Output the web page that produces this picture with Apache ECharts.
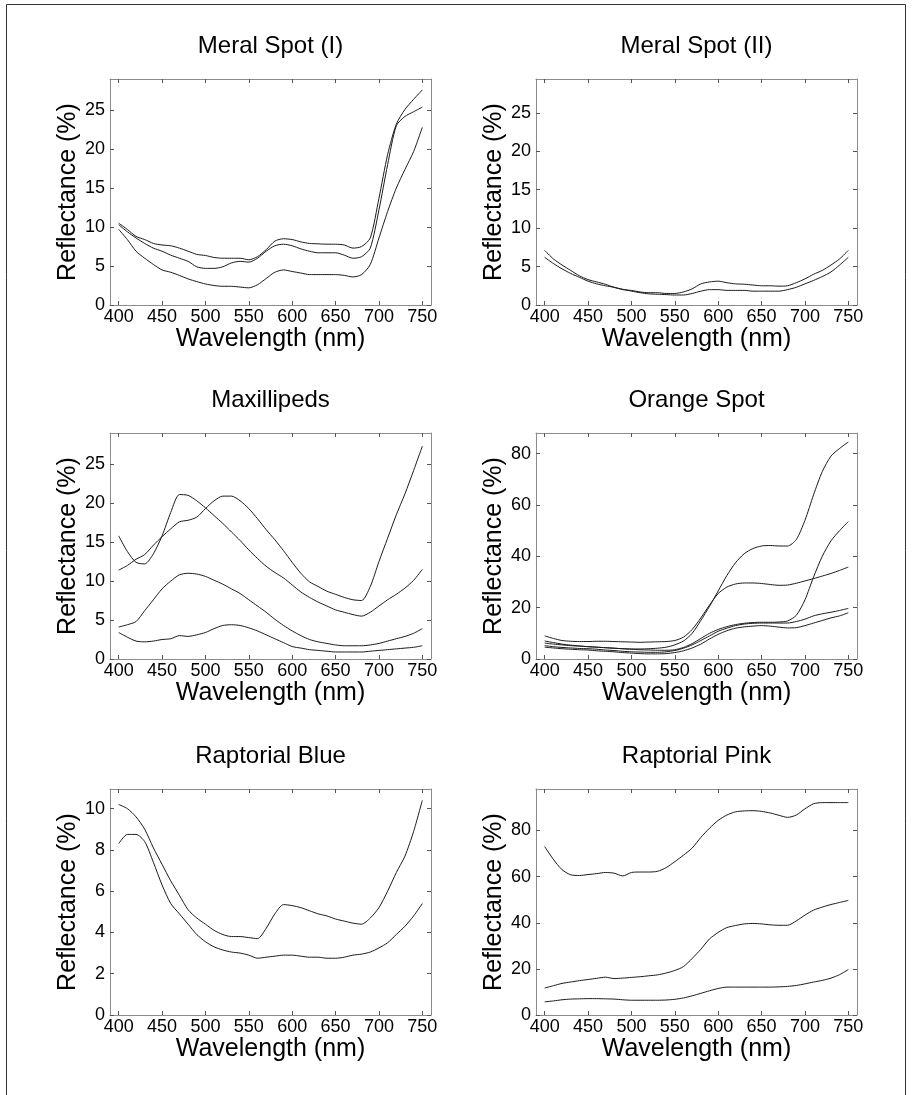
<!DOCTYPE html>
<html>
<head>
<meta charset="utf-8">
<title>Reflectance spectra</title>
<script src="https://cdn.jsdelivr.net/npm/echarts@6/dist/echarts.min.js"></script>
<style>
  html, body { margin: 0; padding: 0; background: #fff; }
  #chart { width: 912px; height: 1095px; }
</style>
</head>
<body>
<div id="chart"></div>
<script>
// Wavelength samples (nm)
const wavelength = [400,410,420,430,440,450,460,470,480,490,500,510,520,530,540,550,560,570,
                    580,590,600,610,620,630,640,650,660,670,680,690,700,710,720,730,740,750];

// Meral Spot (I)
const meral1A = [10.5,9.7,8.8,8.4,7.9,7.7,7.6,7.3,6.9,6.5,6.35,6.1,6.0,6.0,6.0,5.8,6.2,7.1,
                 8.2,8.5,8.4,8.1,7.9,7.85,7.8,7.8,7.7,7.3,7.5,8.6,13.7,19.3,23.2,25.1,26.4,27.6];
const meral1B = [10.3,9.4,8.6,7.9,7.3,6.9,6.4,6.0,5.6,4.9,4.7,4.7,4.9,5.4,5.6,5.5,6.0,6.9,
                 7.6,7.8,7.6,7.2,6.9,6.7,6.7,6.7,6.4,6.0,6.2,7.3,12.2,18.0,23.0,24.2,24.8,25.4];
const meral1C = [9.7,8.4,6.9,6.0,5.2,4.5,4.2,3.8,3.35,3.0,2.7,2.5,2.4,2.4,2.3,2.2,2.6,3.4,
                 4.2,4.5,4.3,4.1,3.9,3.9,3.9,3.9,3.8,3.6,3.9,5.2,8.6,12.0,15.0,17.4,19.7,22.8];

// Meral Spot (II)
const meral2A = [7.1,6.0,5.2,4.5,3.8,3.3,3.0,2.7,2.3,2.0,1.9,1.7,1.6,1.6,1.5,1.5,1.7,2.1,
                 2.75,3.0,3.1,2.9,2.75,2.7,2.6,2.5,2.5,2.45,2.5,2.9,3.4,4.0,4.5,5.2,6.0,7.1];
const meral2B = [6.2,5.4,4.7,4.1,3.6,3.1,2.75,2.5,2.3,2.05,1.8,1.6,1.45,1.4,1.35,1.3,1.3,1.5,
                 1.8,2.0,2.0,1.9,1.9,1.9,1.8,1.8,1.8,1.8,2.0,2.3,2.75,3.2,3.7,4.3,5.2,6.2];

// Maxillipeds
const maxilA = [15.8,13.8,12.4,12.2,13.5,15.8,18.8,21.1,21.0,20.3,19.4,18.4,17.4,16.3,15.2,14.0,12.9,11.9,
                11.1,10.4,9.5,8.6,7.9,7.3,6.8,6.3,6.0,5.7,5.5,6.0,6.8,7.6,8.3,9.1,10.1,11.5];
const maxilB = [11.4,12.0,12.8,13.4,14.6,15.7,16.7,17.6,17.8,18.2,19.3,20.3,20.9,20.9,20.3,19.3,18.0,16.6,
                15.3,13.9,12.4,11.0,9.9,9.3,8.7,8.3,7.9,7.6,7.5,9.3,12.5,15.5,18.5,21.2,24.2,27.3];
const maxilC = [4.1,4.4,4.8,6.2,7.6,9.0,10.0,10.8,11.0,10.9,10.6,10.1,9.6,9.0,8.4,7.6,6.8,6.0,
                5.1,4.3,3.6,3.0,2.5,2.2,2.0,1.8,1.7,1.7,1.7,1.8,2.0,2.3,2.6,2.9,3.3,3.9];
const maxilD = [3.4,2.8,2.3,2.2,2.3,2.5,2.6,3.0,2.9,3.1,3.4,3.9,4.3,4.4,4.3,4.0,3.6,3.1,
                2.6,2.1,1.6,1.4,1.2,1.1,1.0,0.9,0.9,0.9,0.9,1.0,1.1,1.2,1.3,1.4,1.5,1.7];

// Orange Spot
const orangeA = [6.2,5.8,5.5,5.2,5.0,4.8,4.6,4.4,4.2,4.0,3.9,3.9,4.0,4.2,4.6,5.5,7.0,10.0,
                 15.0,20.5,26.5,32.5,37.5,41.0,43.0,44.0,44.2,44.0,44.0,46.5,54.0,64.0,73.0,79.0,82.0,84.5];
const orangeB = [9.0,8.0,7.2,6.9,6.8,6.8,6.9,6.9,6.8,6.7,6.6,6.5,6.6,6.7,6.8,7.2,8.5,11.5,
                 16.0,21.0,25.5,28.0,29.2,29.6,29.6,29.4,29.0,28.7,28.8,29.5,30.4,31.3,32.3,33.3,34.5,35.8];
const orangeC = [7.0,6.4,5.8,5.4,5.1,4.8,4.6,4.4,4.2,4.0,3.8,3.6,3.5,3.4,3.4,3.6,4.5,6.0,
                 8.0,10.0,11.5,12.6,13.4,13.9,14.2,14.3,14.3,14.4,14.8,17.0,23.0,32.0,40.0,46.0,50.0,53.5];
const orangeD = [5.2,4.8,4.5,4.3,4.1,4.0,3.8,3.5,3.3,3.0,2.8,2.7,2.6,2.6,2.8,3.3,4.2,5.5,
                 7.2,9.0,10.8,12.0,13.0,13.6,13.9,14.0,14.0,14.0,14.0,14.6,15.5,16.8,17.6,18.2,18.9,19.7];
const orangeE = [4.6,4.3,4.0,3.8,3.6,3.5,3.2,3.0,2.8,2.5,2.3,2.1,2.0,2.0,2.1,2.5,3.2,4.3,
                 5.8,7.8,9.6,11.0,12.0,12.5,12.8,13.0,12.8,12.4,12.1,12.2,13.0,14.0,15.0,16.0,16.8,18.0];

// Raptorial Blue
const blueA = [10.2,10.0,9.6,9.0,8.1,7.3,6.5,5.8,5.1,4.7,4.4,4.1,3.9,3.8,3.8,3.75,3.7,4.2,
               4.9,5.35,5.3,5.2,5.05,4.9,4.8,4.65,4.55,4.45,4.4,4.7,5.2,6.0,6.9,7.7,8.9,10.4];
const blueB = [8.3,8.75,8.75,8.4,7.4,6.3,5.4,4.9,4.4,3.9,3.55,3.3,3.15,3.05,3.0,2.9,2.75,2.8,
               2.85,2.9,2.9,2.85,2.8,2.8,2.75,2.75,2.8,2.9,2.95,3.05,3.25,3.5,3.9,4.3,4.8,5.4];

// Raptorial Pink
const pinkA = [73.0,67.5,63.0,60.8,60.5,60.9,61.3,61.8,61.5,60.3,61.8,62.0,62.0,62.3,63.9,66.5,69.3,72.4,
               77.0,81.0,84.4,86.7,88.1,88.5,88.6,88.3,87.6,86.6,85.7,86.7,89.4,91.6,92.1,92.1,92.1,92.1];
const pinkB = [11.7,12.7,13.7,14.3,14.9,15.4,15.9,16.4,15.8,16.0,16.3,16.6,17.0,17.4,18.2,19.3,21.0,24.5,
               28.5,33.0,35.8,37.9,38.8,39.5,39.7,39.5,39.1,38.9,38.9,40.8,43.3,45.5,46.8,47.9,48.8,49.7];
const pinkC = [5.7,6.1,6.6,6.9,7.0,7.1,7.1,7.0,6.9,6.6,6.4,6.4,6.4,6.4,6.5,6.8,7.4,8.3,
               9.4,10.5,11.5,12.1,12.1,12.1,12.1,12.1,12.1,12.2,12.4,12.8,13.5,14.3,15.0,16.0,17.5,19.7];

// Tick labels
const xTicks = [400,450,500,550,600,650,700,750];
const yTicksLow = [0,5,10,15,20,25];
const yTicksHigh = [0,20,40,60,80];
const yTicksBlue = [0,2,4,6,8,10];

const panelTitles = ['Meral Spot (I)','Meral Spot (II)','Maxillipeds','Orange Spot','Raptorial Blue','Raptorial Pink'];
const xName = 'Wavelength (nm)';
const yName = 'Reflectance (%)';

const panels = [
  { title: panelTitles[0], curves: [meral1A, meral1B, meral1C], yMax: 29, yTicks: yTicksLow },
  { title: panelTitles[1], curves: [meral2A, meral2B], yMax: 29.4, yTicks: yTicksLow },
  { title: panelTitles[2], curves: [maxilA, maxilB, maxilC, maxilD], yMax: 29, yTicks: yTicksLow },
  { title: panelTitles[3], curves: [orangeA, orangeB, orangeC, orangeD, orangeE], yMax: 88, yTicks: yTicksHigh },
  { title: panelTitles[4], curves: [blueA, blueB], yMax: 10.95, yTicks: yTicksBlue },
  { title: panelTitles[5], curves: [pinkA, pinkB, pinkC], yMax: 98, yTicks: yTicksHigh }
];

// Layout of the 3 x 2 panel arrangement (pixels)
const colLeft = [110, 536];
const plotW = 321;
const rowTop = [79, 433, 789];
const plotH = 226;

const FONT = "'Liberation Sans', Arial, Helvetica, sans-serif";
const AXIS_COLOR = '#8c8c8c';
const TICK_COLOR = '#555';
const LINE_COLOR = '#1a1a1a';

const grids = [], xAxes = [], yAxes = [], series = [], titles = [];

panels.forEach((p, i) => {
  const col = i % 2, row = Math.floor(i / 2);
  const left = colLeft[col], top = rowTop[row];
  grids.push({ left: left, top: top, width: plotW, height: plotH, containLabel: false });

  titles.push({
    text: p.title,
    left: left + plotW / 2,
    top: top - 45,
    padding: 0,
    textAlign: 'center',
    textStyle: { fontFamily: FONT, fontSize: 24, fontWeight: 'normal', color: '#000' }
  });

  const boxLine = { show: true, onZero: false, lineStyle: { color: AXIS_COLOR, width: 1 } };

  // bottom axis with labels
  xAxes.push({
    type: 'value', gridIndex: i, position: 'bottom', min: 390, max: 760,
    axisLine: boxLine,
    axisTick: { show: true, inside: true, length: 4, customValues: xTicks, lineStyle: { color: TICK_COLOR } },
    axisLabel: { show: true, customValues: xTicks, margin: 3, fontFamily: FONT, fontSize: 18, color: '#000' },
    splitLine: { show: false },
    name: xName, nameLocation: 'middle', nameGap: 21,
    nameTextStyle: { fontFamily: FONT, fontSize: 25, color: '#000' }
  });
  // top edge of the box
  xAxes.push({
    type: 'value', gridIndex: i, position: 'top', min: 390, max: 760,
    axisLine: boxLine,
    axisTick: { show: true, inside: true, length: 4, customValues: xTicks, lineStyle: { color: TICK_COLOR } },
    axisLabel: { show: false },
    splitLine: { show: false }
  });

  // left axis with labels
  yAxes.push({
    type: 'value', gridIndex: i, position: 'left', min: 0, max: p.yMax,
    axisLine: boxLine,
    axisTick: { show: true, inside: true, length: 4, customValues: p.yTicks, lineStyle: { color: TICK_COLOR } },
    axisLabel: { show: true, customValues: p.yTicks, margin: 5, fontFamily: FONT, fontSize: 18, color: '#000' },
    splitLine: { show: false },
    name: yName, nameLocation: 'middle', nameGap: 29, nameRotate: 90,
    nameTextStyle: { fontFamily: FONT, fontSize: 25, color: '#000' }
  });
  // right edge of the box
  yAxes.push({
    type: 'value', gridIndex: i, position: 'right', min: 0, max: p.yMax,
    axisLine: boxLine,
    axisTick: { show: true, inside: true, length: 4, customValues: p.yTicks, lineStyle: { color: TICK_COLOR } },
    axisLabel: { show: false },
    splitLine: { show: false }
  });

  p.curves.forEach((vals) => {
    series.push({
      type: 'line',
      xAxisIndex: i * 2, yAxisIndex: i * 2,
      data: wavelength.map((w, k) => [w, vals[k]]),
      showSymbol: false, symbol: 'none',
      smooth: 0.25,
      lineStyle: { color: LINE_COLOR, width: 1 },
      silent: true, animation: false
    });
  });
});

const chart = echarts.init(document.getElementById('chart'), null, { renderer: 'canvas' });
chart.setOption({
  backgroundColor: '#fff',
  animation: false,
  title: titles,
  grid: grids,
  xAxis: xAxes,
  yAxis: yAxes,
  series: series,
  graphic: [{
    type: 'rect', silent: true,
    shape: { x: 6.5, y: 4.5, width: 899, height: 1200 },
    style: { fill: null, stroke: '#333', lineWidth: 1 }
  }]
});
</script>
</body>
</html>
